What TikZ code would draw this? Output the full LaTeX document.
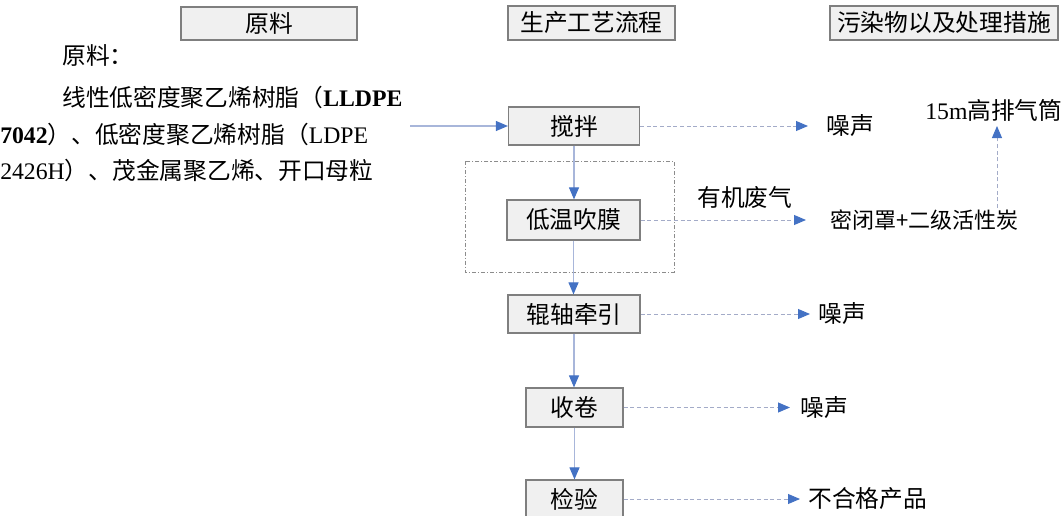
\documentclass[tikz,border=0pt]{standalone}
\usepackage{fontspec}
\setmainfont{Liberation Serif}
\newfontfamily\cjk{Noto Sans CJK SC}
\usetikzlibrary{arrows.meta}
\definecolor{boxfill}{HTML}{F0F0F0}
\definecolor{boxline}{HTML}{7F7F7F}
\definecolor{tipblue}{HTML}{4472C4}
\definecolor{solidline}{HTML}{A8B6DA}
\definecolor{dashline}{HTML}{A3ABC8}
\tikzset{
  procbox/.style={draw=boxline, line width=0.9pt, fill=boxfill, inner sep=0pt, align=center,
    font=\cjk\fontsize{17.8}{20}\selectfont},
  lbl/.style={inner sep=0pt, anchor=west, font=\cjk\fontsize{17.8}{20}\selectfont},
  flow/.style={draw=solidline, line width=0.8pt, -{Triangle[length=9pt,width=7.5pt,color=tipblue]}},
  emit/.style={draw=dashline, line width=0.7pt, dash pattern=on 3pt off 2pt, -{Triangle[length=9pt,width=7.5pt,color=tipblue]}},
}
\begin{document}
\begin{tikzpicture}[x=0.75pt,y=-0.75pt]
\useasboundingbox (0,0) rectangle (1064,515);
% headers
\node[procbox, minimum width=132pt, minimum height=24.75pt] (h1) at (269,23.5) {原料};
\node[procbox, minimum width=125.25pt, minimum height=25.5pt] (h2) at (591.5,23) {生产工艺流程};
\node[procbox, minimum width=171pt, minimum height=25.5pt] (h3) at (944,23) {污染物以及处理措施};
% raw material text
\node[lbl] (t0) at (62,55) {原料：};
\node[lbl] (t1) at (62,97) {线性低密度聚乙烯树脂（{\rmfamily\bfseries LLDPE}};
\node[lbl] (t2) at (0,134) {{\rmfamily\bfseries 7042}）、低密度聚乙烯树脂（{\rmfamily LDPE}};
\node[lbl] (t3) at (0,170) {{\rmfamily 2426H}）、茂金属聚乙烯、开口母粒};
% dashed enclosure
\draw[draw=boxline!90, line width=0.7pt, dash pattern=on 3pt off 1.5pt on 0.8pt off 1.5pt] (465,161) rectangle (674,272);
% process boxes
\node[procbox, minimum width=98.25pt, minimum height=28.5pt] (mix) at (574,126) {搅拌};
\node[procbox, minimum width=99.75pt, minimum height=30pt] (blow) at (573.5,220) {低温吹膜};
\node[procbox, minimum width=99pt, minimum height=28.5pt] (roll) at (574,314) {辊轴牵引};
\node[procbox, minimum width=72.75pt, minimum height=29.25pt] (wind) at (574.5,407.5) {收卷};
\node[procbox, minimum width=72.75pt, minimum height=28.5pt] (check) at (574.5,499) {检验};
% main flow
\coordinate (src) at (410,126);
\draw[flow] (src) -- (mix.west);
\draw[flow] (mix.south) -- (mix.south |- blow.north);
\draw[flow] (blow.south) -- (blow.south |- roll.north);
\draw[flow] (roll.south) -- (roll.south |- wind.north);
\draw[flow] (wind.south) -- (check.north);
% emissions
\coordinate (e1) at (808,126);
\coordinate (e2) at (806,220);
\coordinate (e3) at (810,314);
\coordinate (e4) at (790,407.5);
\coordinate (e5) at (800,499);
\draw[emit] (mix.east) -- (e1);
\draw[emit] (blow.east) -- (e2);
\draw[emit] (roll.east) -- (e3);
\draw[emit] (wind.east) -- (e4);
\draw[emit] (check.east) -- (e5);
\node[lbl] (n1) at (826,126) {噪声};
\node[lbl] (gas) at (697,197) {有机废气};
\node[lbl, font=\cjk\fontsize{16.5}{18}\selectfont] (treat) at (830,220) {密闭罩+二级活性炭};
\node[lbl] (stack) at (925,110) {{\rmfamily 15m}高排气筒};
\node[lbl] (n3) at (818,314) {噪声};
\node[lbl] (n4) at (800,407.5) {噪声};
\node[lbl] (bad) at (808,499) {不合格产品};
\coordinate (tr) at (997,208);
\coordinate (st) at (997,126);
\draw[emit] (tr) -- (st);
\end{tikzpicture}
\end{document}
